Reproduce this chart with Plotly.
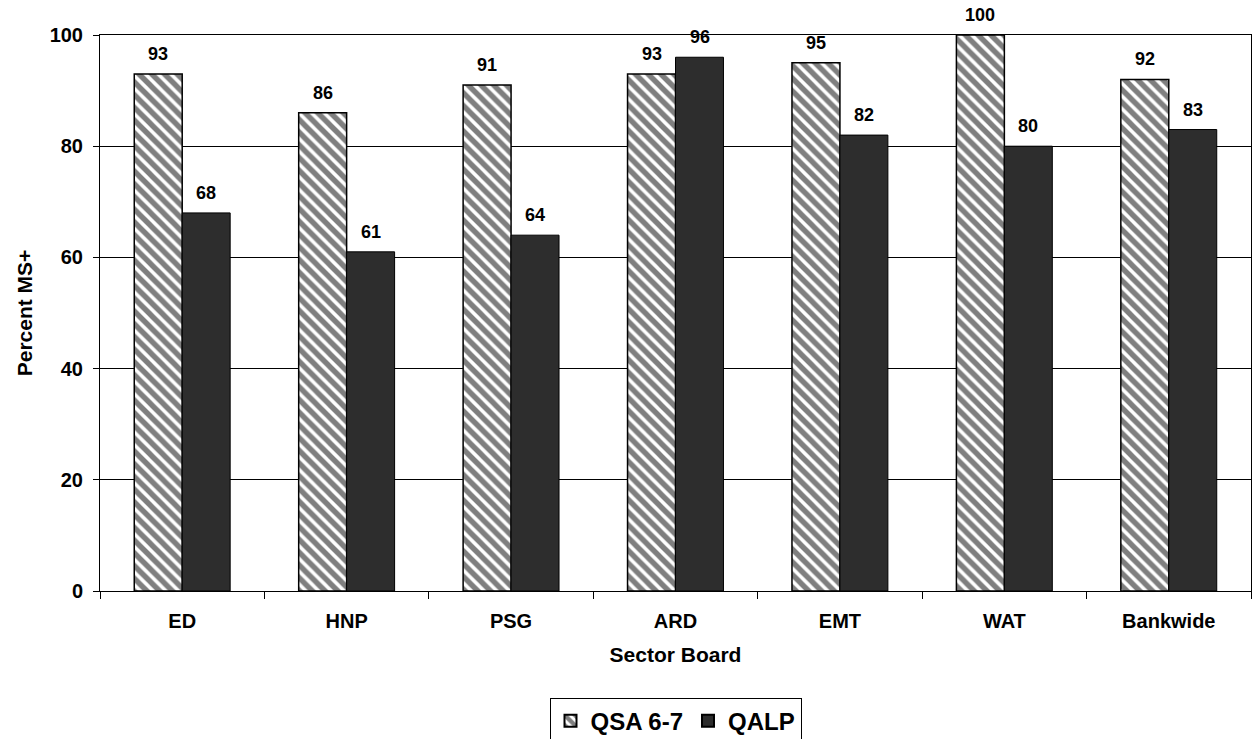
import plotly.graph_objects as go

# Sector boards and percentage of projects rated MS+ under each review
sectors = ["ED", "HNP", "PSG", "ARD", "EMT", "WAT", "Bankwide"]
qsa_values = [93, 86, 91, 93, 95, 100, 92]
qalp_values = [68, 61, 64, 96, 82, 80, 83]
y_ticks = [0, 20, 40, 60, 80, 100]

FONT = "Liberation Sans, Arial, sans-serif"
BAR_HALF = 24  # pixel offset from category centre to each bar's centre

fig = go.Figure()

fig.add_trace(go.Bar(
    name="QSA 6-7",
    x=sectors,
    y=qsa_values,
    marker=dict(
        color="white",
        line=dict(color="black", width=1.5),
        pattern=dict(shape="\\", fgcolor="black", bgcolor="white", size=9, solidity=0.6),
    ),
))

fig.add_trace(go.Bar(
    name="QALP",
    x=sectors,
    y=qalp_values,
    marker=dict(color="#2d2d2d", line=dict(color="black", width=1)),
))

# value labels above each bar
annotations = []
for values, shift in ((qsa_values, -BAR_HALF), (qalp_values, BAR_HALF)):
    for s, v in zip(sectors, values):
        annotations.append(dict(
            x=s, y=v, xref="x", yref="y",
            text=str(v), showarrow=False,
            xshift=shift, yshift=8, yanchor="bottom",
            font=dict(family=FONT, size=18, color="black", weight="bold"),
        ))

fig.update_layout(
    width=1255, height=739,
    margin=dict(l=100, r=4, t=35, b=148, autoexpand=False),
    paper_bgcolor="white",
    plot_bgcolor="white",
    barmode="group",
    bargap=0.4167,
    bargroupgap=0,
    font=dict(family=FONT, color="black"),
    annotations=annotations,
    showlegend=True,
    legend=dict(
        orientation="h",
        x=0.5, xanchor="center",
        y=-0.192, yanchor="top",
        bordercolor="black", borderwidth=1,
        font=dict(family=FONT, size=24, color="black", weight="bold"),
        itemsizing="constant",
        traceorder="normal",
    ),
)

fig.update_xaxes(
    title=dict(text="Sector Board", font=dict(family=FONT, size=21, weight="bold"), standoff=16),
    tickfont=dict(family=FONT, size=20, weight="bold"),
    showline=True, linecolor="black", linewidth=1, mirror=True,
    ticks="outside", ticklen=7, tickcolor="black", tickson="boundaries",
    ticklabelstandoff=12,
    showgrid=False,
)

fig.update_yaxes(
    title=dict(text="Percent MS+", font=dict(family=FONT, size=21, weight="bold"), standoff=11),
    tickfont=dict(family=FONT, size=20, weight="bold"),
    range=[0, 100], tickvals=y_ticks,
    showline=True, linecolor="black", linewidth=1, mirror=True,
    ticks="outside", ticklen=6, tickcolor="black",
    ticklabelstandoff=6,
    showgrid=True, gridcolor="black", gridwidth=1,
    zeroline=False,
)

fig.write_html("out.html")
